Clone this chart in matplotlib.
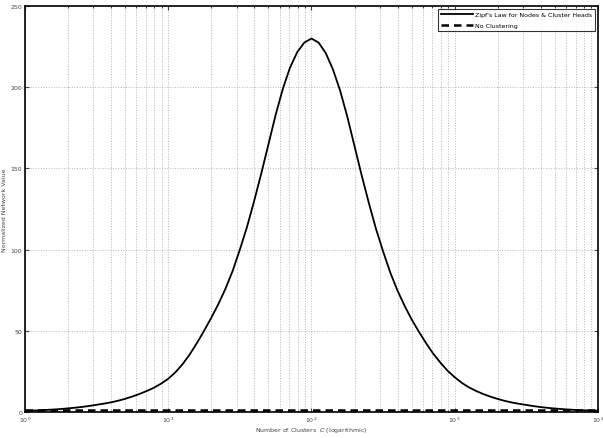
import matplotlib.pyplot as plt

# values (log10 of cluster count -> normalized value)
log_c = [0.00, 0.05, 0.10, 0.15, 0.20, 0.25, 0.30, 0.35, 0.40, 0.45,
         0.50, 0.55, 0.60, 0.65, 0.70, 0.75, 0.80, 0.85, 0.90, 0.95,
         1.00, 1.05, 1.10, 1.15, 1.20, 1.25, 1.30, 1.35, 1.40, 1.45,
         1.50, 1.55, 1.60, 1.65, 1.70, 1.75, 1.80, 1.85, 1.90, 1.95,
         2.00, 2.05, 2.10, 2.15, 2.20, 2.25, 2.30, 2.35, 2.40, 2.45,
         2.50, 2.55, 2.60, 2.65, 2.70, 2.75, 2.80, 2.85, 2.90, 2.95,
         3.00, 3.05, 3.10, 3.15, 3.20, 3.25, 3.30, 3.35, 3.40, 3.45,
         3.50, 3.55, 3.60, 3.65, 3.70, 3.75, 3.80, 3.85, 3.90, 3.95, 4.00]
zipf_value = [0.8, 0.95, 1.1, 1.35, 1.6, 1.9, 2.3, 2.7, 3.2, 3.8,
              4.5, 5.2, 6.0, 7.0, 8.2, 9.6, 11.2, 13.0, 15.0, 17.5,
              20.5, 24.5, 29.5, 35.5, 42.5, 50.0, 58.0, 66.5, 76.0, 87.0,
              100.0, 114.0, 130.0, 147.0, 165.0, 183.0, 199.0, 212.0, 221.5, 227.5,
              230.0, 227.5, 221.0, 211.0, 198.0, 182.0, 164.0, 146.0, 129.0, 113.0,
              99.0, 86.0, 75.0, 65.5, 57.0, 49.5, 42.5, 36.0, 30.5, 25.5,
              21.5, 18.0, 15.2, 13.0, 11.1, 9.5, 8.1, 6.9, 5.9, 5.1,
              4.4, 3.7, 3.1, 2.6, 2.2, 1.85, 1.55, 1.3, 1.1, 0.95, 0.8]
no_cluster_value = 1.0

clusters = [10 ** v for v in log_c]

fig = plt.figure(figsize=(6.03, 4.39), dpi=100)
ax = fig.add_axes([0.0415, 0.059, 0.95, 0.925])

ax.plot(clusters, zipf_value, color='black', lw=1.3,
        label="Zipf's Law for Nodes & Cluster Heads")
ax.plot([clusters[0], clusters[-1]], [no_cluster_value, no_cluster_value],
        color='black', lw=1.8, ls='--', dashes=(3, 2), label='No Clustering')

ax.set_xscale('log')
ax.set_xlim(1, 1e4)
ax.set_ylim(0, 250)
ax.set_yticks([0, 50, 100, 150, 200, 250])

ax.grid(True, which='major', ls=':', color='#b8b8b8', lw=0.7)
ax.grid(True, which='minor', axis='x', ls=':', color='#b8b8b8', lw=0.7)
ax.tick_params(which='both', direction='in', top=True, right=True,
               labelsize=4.5, colors='#444444', width=0.8, pad=2)
ax.tick_params(which='major', length=3)
ax.tick_params(which='minor', length=1.5)
for s in ax.spines.values():
    s.set_linewidth(1.2)

ax.set_xlabel(r'Number of Clusters  $\it{C}$ (logarithmic)', fontsize=4.5, color='#444444')
ax.set_ylabel('Normalized Network Value', fontsize=4.5, color='#444444')
ax.xaxis.set_label_coords(0.5, -0.033)
ax.yaxis.set_label_coords(-0.032, 0.5)

leg = ax.legend(loc='upper right', fontsize=4.5, frameon=True, fancybox=False,
                edgecolor='black', handlelength=5.0, handletextpad=0.4,
                borderaxespad=0.4, labelspacing=0.9, borderpad=0.5)
leg.get_frame().set_linewidth(0.8)

fig.savefig('out.png', dpi=100)
